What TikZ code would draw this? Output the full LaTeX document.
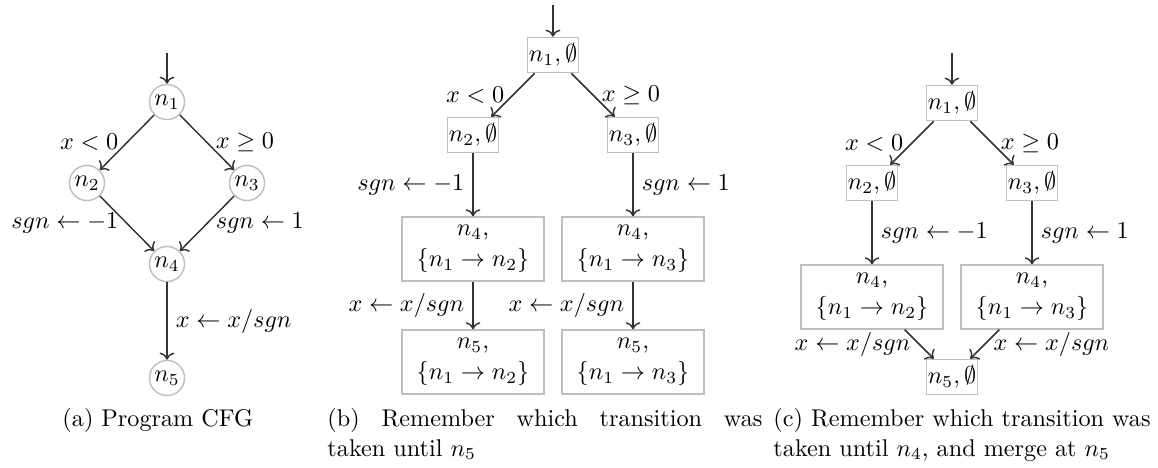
\documentclass[tikz,border=0pt]{standalone}
\usetikzlibrary{arrows.meta}
\begin{document}
\begin{tikzpicture}[x=0.4132pt,y=-0.4132pt,
  st/.style={circle,draw=black!25,line width=0.6pt,inner sep=0pt,minimum size=14.5pt},
  sbox/.style={rectangle,draw=black!25,line width=0.6pt,inner sep=0.5pt,minimum width=20.2pt,minimum height=14.5pt},
  bbox/.style={rectangle,draw=black!25,line width=0.6pt,inner sep=1pt,minimum width=58.7pt,minimum height=26.4pt,align=center},
  tr/.style={draw=black!80,line width=0.6pt,->},
  captext/.style={anchor=base west,inner sep=0pt}
]
\useasboundingbox (0,0) rectangle (1158,468);

% ---------- (a) ----------
\coordinate (a0) at (167,53);
\node[st] (a1) at (167,102) {$n_1$};
\node[st] (a2) at (87,183) {$n_2$};
\node[st] (a3) at (247,183) {$n_3$};
\node[st] (a4) at (167,264) {$n_4$};
\node[st] (a5) at (167,378) {$n_5$};
\draw[tr] (a0) -- (a1);
\draw[tr] (a1) -- node[left] {$x<0$} (a2);
\draw[tr] (a1) -- node[right] {$x\geq 0$} (a3);
\draw[tr] (a2) -- node[left] {$sgn\leftarrow -1$} (a4);
\draw[tr] (a3) -- node[right] {$sgn\leftarrow 1$} (a4);
\draw[tr] (a4) -- node[right] {$x\leftarrow x/sgn$} (a5);

% ---------- (b) ----------
\coordinate (b0) at (553,5);
\node[sbox] (b1) at (553,55) {$n_1,\emptyset$};
\node[sbox] (b2) at (473,135) {$n_2,\emptyset$};
\node[sbox] (b3) at (633,135) {$n_3,\emptyset$};
\node[bbox] (b4) at (473,249) {$n_4$,\\[1pt]$\{n_1\rightarrow n_2\}$};
\node[bbox] (b5) at (633,249) {$n_4$,\\[1pt]$\{n_1\rightarrow n_3\}$};
\node[bbox] (b6) at (473,362) {$n_5$,\\[1pt]$\{n_1\rightarrow n_2\}$};
\node[bbox] (b7) at (633,362) {$n_5$,\\[1pt]$\{n_1\rightarrow n_3\}$};
\draw[tr] (b0) -- (b1);
\draw[tr] (b1) -- node[left] {$x<0$} (b2);
\draw[tr] (b1) -- node[right] {$x\geq 0$} (b3);
\draw[tr] (b2) -- node[left] {$sgn\leftarrow -1$} (b4);
\draw[tr] (b3) -- node[right] {$sgn\leftarrow 1$} (b5);
\draw[tr] (b4) -- node[left] {$x\leftarrow x/sgn$} (b6);
\draw[tr] (b5) -- node[left] {$x\leftarrow x/sgn$} (b7);

% ---------- (c) ----------
\coordinate (c0) at (952,53);
\node[sbox] (c1) at (952,103) {$n_1,\emptyset$};
\node[sbox] (c2) at (872,183) {$n_2,\emptyset$};
\node[sbox] (c3) at (1032,183) {$n_3,\emptyset$};
\node[bbox] (c4) at (872,297) {$n_4$,\\[1pt]$\{n_1\rightarrow n_2\}$};
\node[bbox] (c5) at (1032,297) {$n_4$,\\[1pt]$\{n_1\rightarrow n_3\}$};
\node[sbox] (c6) at (952,377) {$n_5,\emptyset$};
\draw[tr] (c0) -- (c1);
\draw[tr] (c1) -- node[left] {$x<0$} (c2);
\draw[tr] (c1) -- node[right] {$x\geq 0$} (c3);
\draw[tr] (c2) -- node[right] {$sgn\leftarrow -1$} (c4);
\draw[tr] (c3) -- node[right] {$sgn\leftarrow 1$} (c5);
\draw[tr] (c4) -- node[left] {$x\leftarrow x/sgn$} (c6);
\draw[tr] (c5) -- node[right] {$x\leftarrow x/sgn$} (c6);

% ---------- captions ----------
\node[captext] (capa) at (62,427) {(a) Program CFG};
\node[captext] (capb) at (327,427) {\parbox[t]{179.7pt}{(b) Remember which transition was\linebreak taken until $n_5$}};
\node[captext] (capc) at (773,427) {\parbox[t]{155.8pt}{(c) Remember which transition was\linebreak taken until $n_4$, and merge at $n_5$}};
\end{tikzpicture}
\end{document}
